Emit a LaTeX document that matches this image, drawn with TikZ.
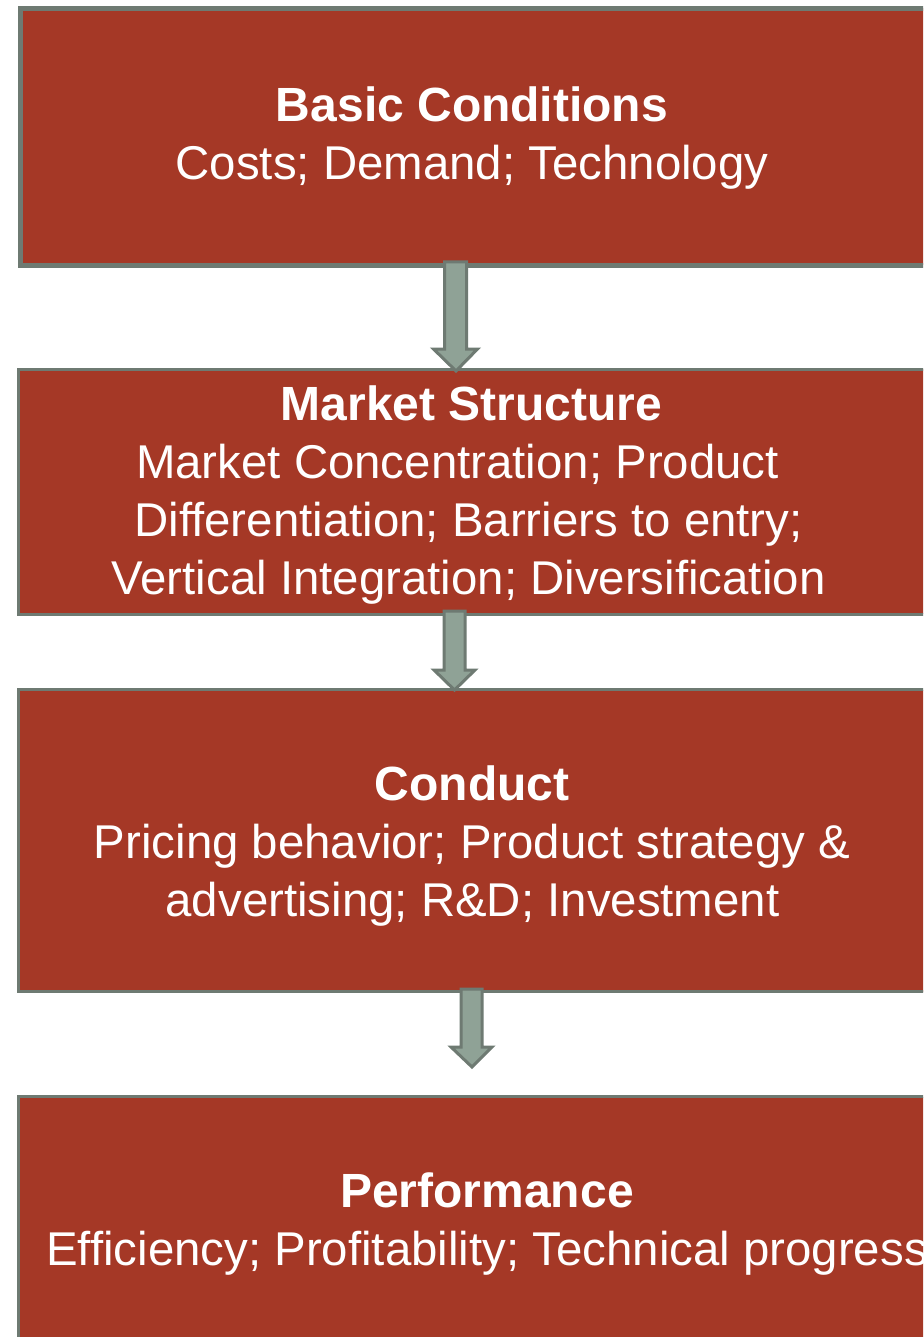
\documentclass[tikz,border=0pt]{standalone}
\usepackage{fontspec}
\setmainfont{Liberation Sans}
\usetikzlibrary{calc}
\definecolor{boxred}{RGB}{165,56,38}
\definecolor{edgegray}{RGB}{110,122,114}
\definecolor{arrowfill}{RGB}{143,162,150}
\tikzset{
  stagebox/.style={draw=edgegray, fill=boxred, line width=3pt, rectangle, inner sep=0pt, anchor=north west},
  headtext/.style={text=white, font=\fontsize{48}{57}\selectfont\bfseries, inner sep=0pt, anchor=base},
  bodytext/.style={text=white, font=\fontsize{47.4}{57}\selectfont, inner sep=0pt, anchor=base},
  blockarrowstyle/.style={draw=edgegray, fill=arrowfill, line width=3pt, line join=miter}
}
% block arrow from #1 (shaft start) to #2 (tip)
% #3 shaft half width, #4 head half width, #5 head length
\newcommand\blockarrow[5]{%
  \draw[blockarrowstyle] let \p1=(#1), \p2=(#2) in
    (\x1-#3,\y1) -- (\x1+#3,\y1) -- (\x1+#3,\y2+#5) -- (\x1+#4,\y2+#5)
    -- (\x2,\y2) -- (\x1-#4,\y2+#5) -- (\x1-#3,\y2+#5) -- cycle;}
\begin{document}
\begin{tikzpicture}[x=1pt,y=-1pt]
\useasboundingbox (0,0) rectangle (923,1337);
\clip (0,0) rectangle (923,1337);
\fill[white] (0,0) rectangle (923,1337);

% stage boxes (they run past the right edge)
\node[stagebox, line width=5pt, minimum width=960pt, minimum height=257pt] (b1) at (17.5,6) {};
\node[stagebox, minimum width=960pt, minimum height=245pt] (b2) at (16.5,367.5) {};
\node[stagebox, minimum width=960pt, minimum height=302pt] (b3) at (16.5,688) {};
\node[stagebox, minimum width=960pt, minimum height=300pt] (b4) at (16.5,1095) {};

% arrow end points
\coordinate (a1s) at (455.5,262);
\coordinate (a1e) at (456,371);
\coordinate (a2s) at (454.5,611);
\coordinate (a2e) at (454.5,690);
\coordinate (a3s) at (471.5,989);
\coordinate (a3e) at (472,1067);

\blockarrow{a1s}{a1e}{11}{22}{22}
\blockarrow{a2s}{a2e}{10.5}{20.5}{20}
\blockarrow{a3s}{a3e}{10.5}{20.5}{20}

% texts
\node[headtext] (h1) at (472,122) {Basic Conditions};
\node[bodytext] (l11) at (472,180) {Costs; Demand; Technology};

\node[headtext] (h2) at (471.5,420) {Market Structure};
\node[bodytext] (l21) at (457.5,478) {Market Concentration; Product};
\node[bodytext] (l22) at (468.5,536) {Differentiation; Barriers to entry;};
\node[bodytext] (l23) at (468.5,594) {Vertical Integration; Diversification};

\node[headtext] (h3) at (472,800) {Conduct};
\node[bodytext] (l31) at (472,858) {Pricing behavior; Product strategy \&};
\node[bodytext] (l32) at (472.5,916) {advertising; R\&D; Investment};

\node[headtext] (h4) at (487,1207) {Performance};
\node[bodytext] (l41) at (487,1265) {Efficiency; Profitability; Technical progress};
\end{tikzpicture}
\end{document}
